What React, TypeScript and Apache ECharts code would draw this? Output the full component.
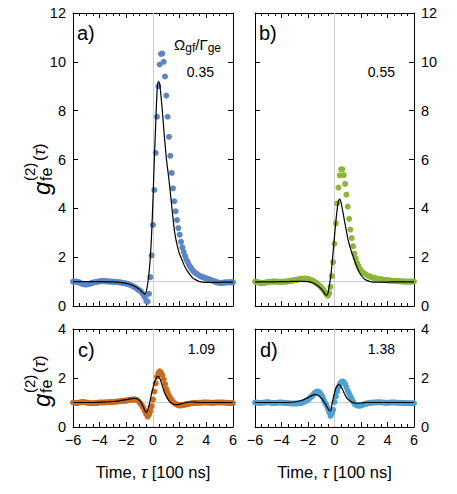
import React, { useEffect, useRef } from "react";
import * as echarts from "echarts";

// Delay times (units of 100 ns) of the measured correlation points
const TAU = [
  -6.0, -5.9, -5.8, -5.7, -5.6, -5.5, -5.4, -5.3, -5.2, -5.1,
  -5.0, -4.9, -4.8, -4.7, -4.6, -4.5, -4.4, -4.3, -4.2, -4.1,
  -4.0, -3.9, -3.8, -3.7, -3.6, -3.5, -3.4, -3.3, -3.2, -3.1,
  -3.0, -2.9, -2.8, -2.7, -2.6, -2.5, -2.4, -2.3, -2.2, -2.1,
  -2.0, -1.9, -1.8, -1.7, -1.6, -1.5, -1.4, -1.3, -1.2, -1.1,
  -1.0, -0.9, -0.8, -0.7, -0.6, -0.5, -0.4, -0.3, -0.2, -0.1,
  0.0, 0.1, 0.2, 0.3, 0.4, 0.5, 0.6, 0.7, 0.8, 0.9,
  1.0, 1.1, 1.2, 1.3, 1.4, 1.5, 1.6, 1.7, 1.8, 1.9,
  2.0, 2.1, 2.2, 2.3, 2.4, 2.5, 2.6, 2.7, 2.8, 2.9,
  3.0, 3.1, 3.2, 3.3, 3.4, 3.5, 3.6, 3.7, 3.8, 3.9,
  4.0, 4.1, 4.2, 4.3, 4.4, 4.5, 4.6, 4.7, 4.8, 4.9,
  5.0, 5.1, 5.2, 5.3, 5.4, 5.5, 5.6, 5.7, 5.8, 5.9,
  6.0,
];

// Measured g2(tau), one array per drive strength
const DOTS_A = [
  1.0, 1.0, 1.0, 0.99, 0.98, 0.96, 0.93, 0.91, 0.89, 0.88,
  0.88, 0.89, 0.9, 0.92, 0.94, 0.96, 0.97, 0.98, 0.99, 1.0,
  1.01, 1.02, 1.02, 1.02, 1.02, 1.01, 1.01, 1.0, 1.0, 1.0,
  0.99, 0.99, 0.98, 0.98, 0.97, 0.97, 0.96, 0.95, 0.94, 0.93,
  0.92, 0.9, 0.88, 0.86, 0.84, 0.81, 0.78, 0.75, 0.71, 0.67,
  0.63, 0.6, 0.52, 0.45, 0.35, 0.2, 0.18, 0.5, 1.18, 2.07,
  3.32, 4.75, 6.27, 7.75, 9.0, 9.89, 10.32, 10.34, 10.0, 9.4,
  8.62, 7.75, 6.93, 6.15, 5.45, 4.82, 4.29, 3.88, 3.52, 3.19,
  2.92, 2.63, 2.4, 2.22, 2.05, 1.9, 1.8, 1.68, 1.6, 1.52,
  1.44, 1.39, 1.35, 1.31, 1.27, 1.24, 1.21, 1.19, 1.17, 1.15,
  1.13, 1.11, 1.09, 1.07, 1.05, 1.03, 1.01, 0.99, 0.97, 0.96,
  0.95, 0.95, 0.95, 0.96, 0.96, 0.97, 0.97, 0.97, 0.97, 0.97,
  0.97,
];

const DOTS_B = [
  1.0, 0.99, 0.98, 0.96, 0.95, 0.94, 0.94, 0.95, 0.96, 0.97,
  0.98, 0.99, 0.99, 1.0, 1.0, 1.0, 1.0, 0.99, 0.99, 0.99,
  0.99, 0.99, 1.0, 1.0, 1.0, 1.01, 1.02, 1.03, 1.04, 1.05,
  1.06, 1.07, 1.08, 1.09, 1.1, 1.11, 1.11, 1.12, 1.12, 1.11,
  1.1, 1.09, 1.07, 1.05, 1.02, 0.99, 0.95, 0.91, 0.87, 0.82,
  0.76, 0.7, 0.63, 0.55, 0.47, 0.42, 0.53, 0.78, 1.22, 1.8,
  2.55, 3.38, 4.2, 4.85, 5.35, 5.6, 5.6, 5.36, 5.0, 4.56,
  4.07, 3.57, 3.13, 2.78, 2.45, 2.15, 1.95, 1.77, 1.64, 1.53,
  1.45, 1.39, 1.35, 1.31, 1.28, 1.25, 1.22, 1.2, 1.18, 1.16,
  1.14, 1.13, 1.12, 1.11, 1.1, 1.09, 1.08, 1.07, 1.07, 1.06,
  1.05, 1.05, 1.04, 1.04, 1.03, 1.03, 1.02, 1.02, 1.02, 1.01,
  1.01, 1.01, 1.0, 1.0, 1.0, 1.0, 1.0, 1.0, 1.0, 1.0,
  1.0,
];

const DOTS_C = [
  1.0, 0.99, 0.98, 0.98, 0.99, 1.0, 1.01, 1.02, 1.02, 1.01,
  1.0, 0.99, 0.98, 0.97, 0.97, 0.97, 0.98, 0.98, 0.99, 0.99,
  1.0, 1.0, 1.0, 1.0, 1.0, 1.01, 1.01, 1.01, 1.02, 1.02,
  1.02, 1.03, 1.03, 1.04, 1.04, 1.05, 1.06, 1.07, 1.07, 1.08,
  1.08, 1.09, 1.1, 1.11, 1.12, 1.12, 1.13, 1.12, 1.1, 1.06,
  1.0, 0.93, 0.85, 0.76, 0.64, 0.52, 0.42, 0.5, 0.65, 0.85,
  1.12, 1.45, 1.78, 2.05, 2.2, 2.27, 2.22, 2.12, 1.95, 1.75,
  1.55, 1.4, 1.28, 1.18, 1.1, 1.03, 0.98, 0.94, 0.91, 0.89,
  0.88, 0.88, 0.89, 0.9, 0.91, 0.93, 0.94, 0.95, 0.96, 0.97,
  0.97, 0.98, 0.98, 0.98, 0.99, 0.99, 0.99, 1.0, 1.0, 1.0,
  1.0, 1.0, 1.0, 0.99, 0.99, 0.99, 0.99, 1.0, 1.0, 1.0,
  1.0, 1.0, 1.0, 1.0, 0.99, 0.99, 0.99, 0.98, 0.98, 0.98,
  0.98,
];

const DOTS_D = [
  1.0, 1.0, 0.99, 0.99, 0.98, 0.98, 0.99, 1.0, 1.0, 1.01,
  1.01, 1.0, 0.99, 0.98, 0.98, 0.98, 0.99, 0.99, 1.0, 1.0,
  1.0, 0.99, 0.99, 0.98, 0.98, 0.97, 0.97, 0.96, 0.96, 0.96,
  0.96, 0.96, 0.96, 0.97, 0.97, 0.98, 1.0, 1.02, 1.05, 1.08,
  1.11, 1.16, 1.21, 1.26, 1.32, 1.38, 1.43, 1.45, 1.44, 1.39,
  1.31, 1.22, 1.1, 0.98, 0.88, 0.75, 0.6, 0.45, 0.55, 0.7,
  1.02, 1.25, 1.45, 1.62, 1.74, 1.82, 1.86, 1.83, 1.75, 1.62,
  1.48, 1.36, 1.25, 1.14, 1.04, 0.96, 0.91, 0.88, 0.87, 0.87,
  0.88, 0.9, 0.92, 0.94, 0.96, 0.97, 0.98, 0.99, 0.99, 1.0,
  1.0, 1.0, 1.0, 1.01, 1.01, 1.0, 1.0, 1.0, 0.99, 0.99,
  0.99, 0.99, 1.0, 1.0, 1.0, 1.0, 1.0, 0.99, 0.99, 0.99,
  0.99, 0.98, 0.98, 0.98, 0.97, 0.97, 0.97, 0.97, 0.97, 0.97,
  0.97,
];

// Model curves, sampled more finely around zero delay
const FIT_TAU = [
  -6, -5.5, -5, -4.5, -4, -3.5, -3, -2.5, -2,
  -1.8, -1.6, -1.4, -1.2, -1.0,
  -0.9, -0.8, -0.7, -0.6, -0.5, -0.4, -0.3, -0.2, -0.1,
  0.0, 0.1, 0.2, 0.3, 0.4, 0.5, 0.6, 0.7, 0.8, 0.9,
  1.0, 1.1, 1.2, 1.3, 1.4, 1.5, 1.6, 1.7, 1.8, 1.9, 2.0,
  2.2, 2.4, 2.6, 2.8, 3.0,
  3.25, 3.5, 4, 4.5, 5, 5.5, 6,
];

const FIT_A = [
  1.0, 1.0, 1.0, 1.0, 1.0, 0.99, 0.99, 0.97, 0.93,
  0.9, 0.86, 0.81, 0.75, 0.67,
  0.62, 0.56, 0.51, 0.49, 0.6, 0.9, 1.35, 2.0, 3.0,
  4.4, 6.0, 7.4, 8.75, 9.2, 9.1, 8.6, 8.0, 7.3, 6.65,
  6.05, 5.6, 5.15, 4.65, 4.12, 3.6, 3.12, 2.78, 2.52, 2.3, 2.12,
  1.85, 1.6, 1.42, 1.26, 1.14,
  1.06, 1.0, 0.97, 0.97, 0.97, 0.98, 0.98,
];

const FIT_B = [
  0.99, 0.99, 0.99, 0.99, 1.0, 1.0, 1.01, 1.01, 1.0,
  0.98, 0.94, 0.88, 0.8, 0.7,
  0.64, 0.56, 0.48, 0.44, 0.52, 0.8, 1.15, 1.65, 2.25,
  2.86, 3.45, 3.95, 4.3, 4.38, 4.22, 3.95, 3.65, 3.35, 3.07,
  2.78, 2.55, 2.36, 2.19, 2.03, 1.88, 1.73, 1.59, 1.46, 1.35, 1.26,
  1.13, 1.06, 1.02, 0.99, 0.98,
  0.98, 0.98, 0.98, 0.99, 0.99, 0.99, 0.99,
];

const FIT_C = [
  1.0, 1.0, 1.0, 1.0, 1.01, 1.02, 1.04, 1.07, 1.12,
  1.14, 1.16, 1.17, 1.15, 1.07,
  1.0, 0.9, 0.78, 0.66, 0.6, 0.68, 0.88, 1.12, 1.38,
  1.6, 1.8, 1.95, 2.04, 2.07, 2.0, 1.85, 1.68, 1.5, 1.36,
  1.25, 1.15, 1.07, 1.01, 0.97, 0.94, 0.92, 0.91, 0.91, 0.92, 0.93,
  0.96, 0.99, 1.01, 1.02, 1.02,
  1.01, 1.0, 1.0, 1.0, 1.0, 1.0, 1.0,
];

const FIT_D = [
  1.0, 1.0, 1.0, 1.0, 1.0, 1.0, 1.02, 1.08, 1.2,
  1.26, 1.31, 1.32, 1.28, 1.19,
  1.12, 1.03, 0.96, 0.86, 0.76, 0.67, 0.66, 0.9, 1.15,
  1.39, 1.58, 1.68, 1.73, 1.71, 1.64, 1.54, 1.42, 1.31, 1.21,
  1.14, 1.09, 1.05, 1.02, 1.0, 0.98, 0.97, 0.97, 0.97, 0.98, 0.98,
  0.99, 1.0, 1.0, 1.0, 1.0,
  1.0, 1.0, 1.0, 1.0, 1.0, 1.0, 1.0,
];

const PANEL_LETTERS = ["a)", "b)", "c)", "d)"];
const RATIOS = ["0.35", "0.55", "1.09", "1.38"];
const DOT_COLORS = ["#5a86c4", "#8cb63a", "#cd6a1c", "#4e9fd2"];
const Y_MAX = [12, 12, 4, 4];
const X_TICKS = { min: -6, max: 6, step: 2 };
const Y_STEP = 2;

const FONT = '"Liberation Sans", Arial, sans-serif';

const GRIDS = [
  { left: 73, top: 13, width: 160, height: 293 },
  { left: 255, top: 13, width: 159, height: 293 },
  { left: 73, top: 329, width: 160, height: 98 },
  { left: 255, top: 329, width: 159, height: 98 },
];

const fmtTick = (v: number) => (v < 0 ? "\u2212" + Math.abs(v) : String(v));

function pairs(xs: number[], ys: number[]) {
  return ys.map((y, i) => [xs[i], y]);
}

// Rotated axis title: g with stacked (2) / fe, then (tau)
function yTitle(cx: number, cy: number) {
  return {
    type: "group",
    x: cx,
    y: cy,
    rotation: Math.PI / 2,
    children: [
      {
        type: "text",
        x: -31,
        y: 0,
        style: { text: "g", fontSize: 24, fontStyle: "italic", fontFamily: FONT, fill: "#000", align: "left", verticalAlign: "middle" },
      },
      {
        type: "text",
        x: -17,
        y: -12,
        style: { text: "(2)", fontSize: 15, fontFamily: FONT, fill: "#000", align: "left", verticalAlign: "middle" },
      },
      {
        type: "text",
        x: -17,
        y: 5,
        style: { text: "fe", fontSize: 16, fontFamily: FONT, fill: "#000", align: "left", verticalAlign: "middle" },
      },
      {
        type: "text",
        x: 3,
        y: -2,
        style: {
          text: "{n|(}{i|\u03c4}{n|)}",
          fontFamily: FONT,
          fill: "#000",
          align: "left",
          verticalAlign: "middle",
          rich: {
            n: { fontSize: 17, fontFamily: FONT, fill: "#000" },
            i: { fontSize: 17, fontFamily: FONT, fontStyle: "italic", fill: "#000" },
          },
        },
      },
    ],
  };
}

function xTitle(cx: number, cy: number) {
  return {
    type: "text",
    x: cx,
    y: cy,
    style: {
      text: "{n|Time, }{i|\u03c4}{n| [100 ns]}",
      align: "center",
      verticalAlign: "middle",
      fontFamily: FONT,
      rich: {
        n: { fontSize: 16.5, fontFamily: FONT, fill: "#000" },
        i: { fontSize: 16.5, fontFamily: FONT, fontStyle: "italic", fill: "#000" },
      },
    },
  };
}

function plainText(x: number, y: number, text: string, size: number, align: string) {
  return {
    type: "text",
    x,
    y,
    style: { text, fontSize: size, fontFamily: FONT, fill: "#000", align, verticalAlign: "middle" },
  };
}

function buildOption() {
  const dots = [DOTS_A, DOTS_B, DOTS_C, DOTS_D];
  const fits = [FIT_A, FIT_B, FIT_C, FIT_D];

  const xAxis: any[] = [];
  const yAxis: any[] = [];
  const series: any[] = [];

  GRIDS.forEach((_, i) => {
    const bottomRow = i >= 2;
    const leftCol = i % 2 === 0;
    const baseX = {
      type: "value",
      gridIndex: i,
      min: X_TICKS.min,
      max: X_TICKS.max,
      interval: X_TICKS.step,
      axisLine: { show: true, onZero: false, lineStyle: { color: "#000", width: 1 } },
      axisTick: { show: true, inside: true, length: 5, lineStyle: { color: "#000", width: 1 } },
      minorTick: { show: true, splitNumber: 4, length: 3, lineStyle: { color: "#000", width: 1 } },
      splitLine: { show: false },
    };
    xAxis.push({
      ...baseX,
      position: "bottom",
      axisLabel: {
        show: bottomRow,
        margin: 5,
        fontSize: 14.5,
        fontFamily: FONT,
        color: "#000",
        formatter: fmtTick,
      },
    });
    xAxis.push({ ...baseX, position: "top", axisLabel: { show: false } });

    const baseY = {
      type: "value",
      gridIndex: i,
      min: 0,
      max: Y_MAX[i],
      interval: Y_STEP,
      axisLine: { show: true, onZero: false, lineStyle: { color: "#000", width: 1 } },
      axisTick: { show: true, inside: true, length: 5, lineStyle: { color: "#000", width: 1 } },
      splitLine: { show: false },
    };
    const labelStyle = { margin: 7, fontSize: 14.5, fontFamily: FONT, color: "#000" };
    yAxis.push({ ...baseY, position: "left", axisLabel: { ...labelStyle, show: leftCol } });
    yAxis.push({ ...baseY, position: "right", axisLabel: { ...labelStyle, show: !leftCol } });

    series.push({
      type: "scatter",
      xAxisIndex: 2 * i,
      yAxisIndex: 2 * i,
      data: pairs(TAU, dots[i]),
      symbol: "circle",
      symbolSize: 6,
      itemStyle: { color: DOT_COLORS[i], opacity: 1 },
      z: 2,
      silent: true,
      markLine: {
        silent: true,
        symbol: "none",
        z: 1,
        label: { show: false },
        lineStyle: { color: "#cccccc", width: 1, type: "solid" },
        data: [{ xAxis: 0 }, { yAxis: 1 }],
      },
    });
    series.push({
      type: "line",
      xAxisIndex: 2 * i,
      yAxisIndex: 2 * i,
      data: pairs(FIT_TAU, fits[i]),
      showSymbol: false,
      smooth: 0.2,
      lineStyle: { color: "#000", width: 1.2 },
      z: 3,
      silent: true,
    });
  });

  const graphic: any[] = [
    plainText(77, 33, PANEL_LETTERS[0], 20, "left"),
    plainText(259, 33, PANEL_LETTERS[1], 20, "left"),
    plainText(78, 350, PANEL_LETTERS[2], 20, "left"),
    plainText(260, 350, PANEL_LETTERS[3], 20, "left"),
    plainText(214, 72, RATIOS[0], 14, "right"),
    plainText(395, 72, RATIOS[1], 14, "right"),
    plainText(215, 349, RATIOS[2], 14, "right"),
    plainText(395, 349, RATIOS[3], 14, "right"),
    {
      type: "text",
      x: 174,
      y: 44,
      style: {
        text: "{b|\u03a9}{s|gf}{b|/\u0393}{s|ge}",
        align: "left",
        verticalAlign: "middle",
        fontFamily: FONT,
        rich: {
          b: { fontSize: 15, fontFamily: FONT, fill: "#000", lineHeight: 20 },
          s: { fontSize: 12, fontFamily: FONT, fill: "#000", lineHeight: 9, verticalAlign: "bottom" },
        },
      },
    },
    yTitle(41, 164),
    yTitle(41, 376),
    xTitle(153, 472),
    xTitle(334.5, 472),
  ];

  return {
    animation: false,
    backgroundColor: "#ffffff",
    grid: GRIDS.map((g) => ({ ...g, containLabel: false })),
    xAxis,
    yAxis,
    series,
    graphic,
  };
}

export default function App() {
  const ref = useRef<HTMLDivElement>(null);
  useEffect(() => {
    if (!ref.current) return;
    const chart = echarts.init(ref.current, undefined, { renderer: "svg" });
    chart.setOption(buildOption() as any);
    return () => chart.dispose();
  }, []);
  return (
    <div
      ref={ref}
      style={{ position: "absolute", left: 0, top: 0, width: 457, height: 494, background: "#fff" }}
    />
  );
}
